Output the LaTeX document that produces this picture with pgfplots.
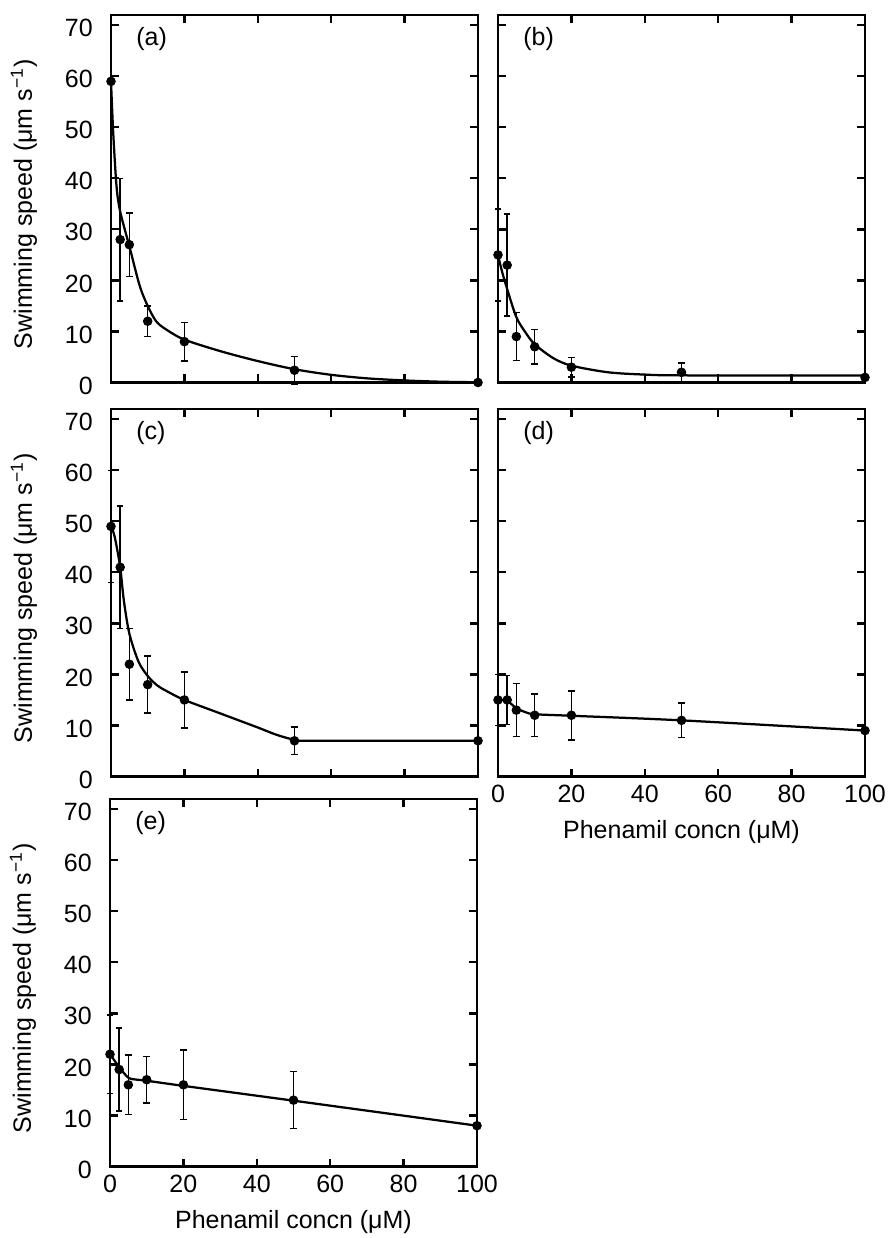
\documentclass[border=0pt]{standalone}
\usepackage{fontspec}
\setmainfont{Liberation Sans}
\usepackage{pgfplots}
\pgfplotsset{compat=1.18}
\usepackage{pgfplotstable}

\pgfplotstableread{
x y e
0 59 0
2.5 28 12
5 27 6.2
10 12 3
20 8 3.8
50 2.4 2.7
100 0 0
}\pa
\pgfplotstableread{
x y
0 59
0.6 49
1.5 38.5
2.5 33.5
5 26.7
7.8 19
10 15
12.3 12
15 10.4
20 8.4
30 6.1
40 4.2
50 2.6
60 1.5
70 0.8
80 0.4
90 0.15
100 0.05
}\ca
\pgfplotstableread{
x y e
0 25 9
2.5 23 10
5 9 4.7
10 7 3.4
20 3 1.9
50 2 1.8
100 1 0.5
}\pb
\pgfplotstableread{
x y
0 25
1 22
2.5 18.3
5 12.8
7.5 9.8
10 7.5
15 4.8
20 3.3
30 2
40 1.55
50 1.4
100 1.35
}\cb
\pgfplotstableread{
x y e
0 49 11
2.5 41 12
5 22 7
10 18 5.6
20 15 5.5
50 7 2.7
100 7 0
}\pc
\pgfplotstableread{
x y
0 49
1 47
2.5 41
3.5 34.5
5 28
7.5 22.5
10 19.7
12.5 17.9
15 16.8
20 15
30 12.3
40 9.6
45 8.2
50 7.2
55 7
100 7
}\cc
\pgfplotstableread{
x y e
0 15 5
2.5 15 4.8
5 13 5.2
10 12 4.2
20 12 4.8
50 11 3.4
100 9 0
}\pd
\pgfplotstableread{
x y
0 15
2.5 14.8
5 13.4
7.5 12.6
10 12.2
20 11.9
50 11
100 9
}\cd
\pgfplotstableread{
x y e
0 22 7.7
2.5 19 8.1
5 16 5.8
10 17 4.6
20 16 6.8
50 13 5.6
100 8 0
}\pe
\pgfplotstableread{
x y
0 22
2.5 19.5
5 17.4
7.5 17
10 16.8
20 15.8
50 12.9
100 8
}\ce

\pgfplotsset{
  panel/.style={
    scale only axis, width=146.8pt, height=147pt, anchor=north west,
    xmin=0, xmax=100, ymin=0, ymax=72,
    xtick={0,20,...,100}, ytick={0,10,...,70},
    tick align=inside, major tick length=3.2pt,
    axis line style={line width=0.9pt},
    every tick/.style={line width=0.9pt, black},
    clip=false,
    /pgf/number format/assume math mode=true,
    yticklabel style={xshift=-3.8pt, yshift=-1.2pt},
    ylabel style={at={(axis description cs:-0.237,0.485)}, anchor=center},
  },
  pts/.style={only marks, mark=*, mark size=1.7pt, black,
    error bars/.cd, y dir=both, y explicit,
    error bar style={line width=0.6pt, black},
    error mark options={rotate=90, mark size=1.3pt, line width=0.6pt, black}},
  crv/.style={black, line width=0.9pt, smooth, no marks},
}

\begin{document}
\begin{tikzpicture}[font=\fontsize{10}{12}\selectfont]
\useasboundingbox (0,0) rectangle (355.6pt,-495.2pt);
% (a)
\begin{axis}[panel, at={(44.4pt,-6pt)}, xticklabels={},
  ylabel={Swimming speed (μm s\textsuperscript{−1})}]
\addplot[crv] table[x=x,y=y] {\ca};
\addplot[pts] table[x=x,y=y,y error=e] {\pa};
\node[anchor=west] at (rel axis cs:0.045,0.935) {(a)};
\end{axis}
% (b)
\begin{axis}[panel, at={(199.2pt,-6pt)}, xticklabels={}, yticklabels={}]
\addplot[crv] table[x=x,y=y] {\cb};
\addplot[pts] table[x=x,y=y,y error=e] {\pb};
\node[anchor=west] at (rel axis cs:0.045,0.935) {(b)};
\end{axis}
% (c)
\begin{axis}[panel, at={(44.4pt,-163.6pt)}, xticklabels={},
  ylabel={Swimming speed (μm s\textsuperscript{−1})}]
\addplot[crv] table[x=x,y=y] {\cc};
\addplot[pts] table[x=x,y=y,y error=e] {\pc};
\node[anchor=west] at (rel axis cs:0.045,0.935) {(c)};
\end{axis}
% (d)
\begin{axis}[panel, at={(199.2pt,-163.6pt)}, yticklabels={},
  xlabel={Phenamil concn (μM)}]
\addplot[crv] table[x=x,y=y] {\cd};
\addplot[pts] table[x=x,y=y,y error=e] {\pd};
\node[anchor=west] at (rel axis cs:0.045,0.935) {(d)};
\end{axis}
% (e)
\begin{axis}[panel, at={(44pt,-319.6pt)},
  xlabel={Phenamil concn (μM)},
  ylabel={Swimming speed (μm s\textsuperscript{−1})}]
\addplot[crv] table[x=x,y=y] {\ce};
\addplot[pts] table[x=x,y=y,y error=e] {\pe};
\node[anchor=west] at (rel axis cs:0.045,0.935) {(e)};
\end{axis}
\end{tikzpicture}
\end{document}
